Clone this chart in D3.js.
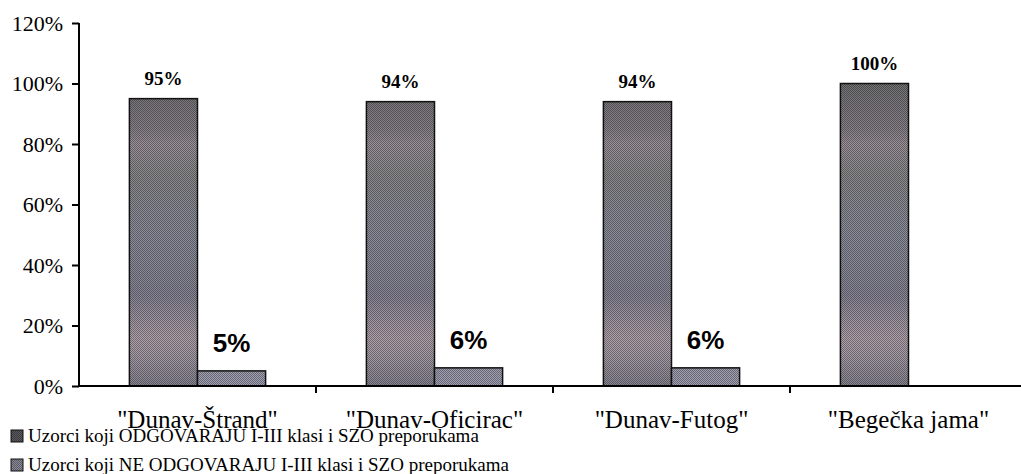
<!DOCTYPE html>
<html>
<head>
<meta charset="utf-8">
<script src="https://cdn.jsdelivr.net/npm/d3@7"></script>
<style>
  html, body { margin: 0; padding: 0; background: #fff; }
  svg { display: block; }
</style>
</head>
<body>
<svg id="chart" width="1021" height="474"></svg>
<script>
const categories = ['"Dunav-Štrand"', '"Dunav-Oficirac"', '"Dunav-Futog"', '"Begečka jama"'];
const seriesNames = [
  "Uzorci koji ODGOVARAJU I-III klasi i SZO preporukama",
  "Uzorci koji NE ODGOVARAJU I-III klasi i SZO preporukama"
];
const matchValues = [95, 94, 94, 100];
const notMatchValues = [5, 6, 6, null];
const yTicks = [0, 20, 40, 60, 80, 100, 120];

const svg = d3.select("#chart");
const serif = "'Liberation Serif', 'Times New Roman', serif";
const sans = "'Liberation Sans', Arial, sans-serif";

const x0 = 79, x1 = 1027, yTop = 23, yBot = 386;
const x = d3.scaleBand().domain(categories).range([x0, x1]).paddingInner(0).paddingOuter(0);
const y = d3.scaleLinear().domain([0, 120]).range([yBot, yTop]);
const inner = d3.scaleBand().domain([0, 1]).range([0, x.bandwidth()]).paddingOuter(0.74).paddingInner(0);

const defs = svg.append("defs");
function grad(id, stops) {
  const g = defs.append("linearGradient").attr("id", id)
    .attr("gradientUnits", "userSpaceOnUse")
    .attr("x1", 0).attr("x2", 0).attr("y1", y(100)).attr("y2", yBot);
  stops.forEach(s => g.append("stop").attr("offset", s[0]).attr("stop-color", s[1]));
}
grad("g1", [[0, "#727274"], [0.15, "#88828a"], [0.2, "#9c929a"], [0.3, "#8a8a8c"], [0.5, "#8c8e9c"], [0.7, "#888696"], [0.84, "#b0a2ac"], [0.9, "#a69ca8"], [1, "#868490"]]);
grad("g2", [[0, "#8c8c98"], [0.85, "#9c9aa8"], [1, "#a0a0b4"]]);
const pat = defs.append("pattern").attr("id", "chk")
  .attr("patternUnits", "userSpaceOnUse").attr("width", 2).attr("height", 2);
pat.append("rect").attr("x", 0).attr("y", 0).attr("width", 1).attr("height", 1).attr("fill", "rgba(0,0,0,0.35)");
pat.append("rect").attr("x", 1).attr("y", 1).attr("width", 1).attr("height", 1).attr("fill", "rgba(0,0,0,0.35)");

const series = [
  { values: matchValues, fill: "url(#g1)", labelFont: serif, labelSize: 19, labelOff: 14 },
  { values: notMatchValues, fill: "url(#g2)", labelFont: sans, labelSize: 26, labelOff: 19 }
];

// bars
series.forEach((s, si) => {
  const data = categories.map((c, i) => ({ c, v: s.values[i] })).filter(d => d.v != null);
  const g = svg.append("g");
  [s.fill, "url(#chk)"].forEach((f, k) => {
    g.selectAll("rect.l" + k).data(data).join("rect")
      .attr("x", d => x(d.c) + inner(si))
      .attr("y", d => y(d.v))
      .attr("width", inner.bandwidth())
      .attr("height", d => yBot - y(d.v))
      .attr("fill", f)
      .attr("stroke", k === 1 ? "#111" : "none")
      .attr("stroke-width", 1.5);
  });
  g.selectAll("text").data(data).join("text")
    .attr("x", d => x(d.c) + inner(si) + inner.bandwidth() / 2)
    .attr("y", d => y(d.v) - s.labelOff)
    .attr("text-anchor", "middle")
    .attr("font-family", s.labelFont)
    .attr("font-weight", "bold")
    .attr("font-size", s.labelSize)
    .attr("fill", "#000")
    .text(d => d.v + "%");
});

// y axis
const yAxis = svg.append("g").attr("transform", `translate(${x0},0)`)
  .call(d3.axisLeft(y).tickValues(yTicks).tickFormat(d => d + "%").tickSize(7).tickPadding(9));
yAxis.select(".domain").attr("stroke", "#000").attr("stroke-width", 2).attr("d", `M0,${yTop}V${yBot}`);
yAxis.selectAll(".tick line").attr("stroke", "#000").attr("stroke-width", 2);
yAxis.selectAll(".tick text").attr("font-family", serif).attr("font-size", 22).attr("fill", "#000");

// x axis
const xAxis = svg.append("g").attr("transform", `translate(0,${yBot})`);
xAxis.append("line").attr("x1", x0).attr("x2", x1).attr("stroke", "#000").attr("stroke-width", 2);
xAxis.selectAll("line.t").data(categories.slice(1)).join("line").attr("class", "t")
  .attr("x1", d => x(d)).attr("x2", d => x(d)).attr("y1", 0).attr("y2", 7)
  .attr("stroke", "#000").attr("stroke-width", 2);
xAxis.selectAll("text").data(categories).join("text")
  .attr("x", d => x(d) + x.bandwidth() / 2)
  .attr("y", 428 - yBot)
  .attr("text-anchor", "middle")
  .attr("font-family", serif).attr("font-size", 25).attr("fill", "#000")
  .text(d => d);

// legend
const legendFill = ["#5a5a60", "#8a8a96"];
const lg = svg.append("g");
seriesNames.forEach((n, i) => {
  const yy = 430 + i * 29;
  lg.append("rect").attr("x", 11).attr("y", yy).attr("width", 12).attr("height", 12)
    .attr("fill", legendFill[i]).attr("stroke", "#111").attr("stroke-width", 1);
  lg.append("rect").attr("x", 11).attr("y", yy).attr("width", 12).attr("height", 12).attr("fill", "url(#chk)");
  lg.append("text").attr("x", 28).attr("y", yy + 12)
    .attr("font-family", serif).attr("font-size", 19).attr("fill", "#000").text(n);
});
</script>
</body>
</html>
